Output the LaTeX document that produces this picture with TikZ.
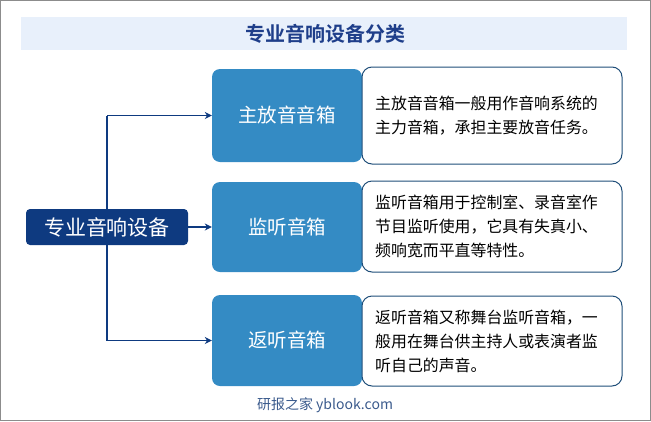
\documentclass[tikz,border=0pt]{standalone}
\usepackage{fontspec}
\setmainfont{Noto Sans CJK SC}
\newfontfamily\titlefont{Noto Sans CJK SC Bold}
\usepackage{tikz}
\usetikzlibrary{arrows.meta,shapes,positioning,backgrounds}
\usepackage{xcolor}
\definecolor{ybnavy}{RGB}{14,58,128}
\definecolor{ybblue}{RGB}{52,139,196}
\definecolor{ybband}{RGB}{232,240,251}
\definecolor{ybtitle}{RGB}{30,62,138}
\definecolor{ybedge}{RGB}{31,78,121}
\definecolor{ybfoot}{RGB}{58,90,140}
\tikzstyle{root} = [rectangle, rounded corners=4pt, minimum width=162pt, minimum height=36pt, text centered, fill=ybnavy, text=white, font=\fontsize{21}{24}\selectfont, inner sep=0pt]
\tikzstyle{kind} = [rectangle, rounded corners=8pt, minimum width=150pt, text centered, fill=ybblue, text=white, font=\fontsize{19.5}{22}\selectfont, inner sep=0pt]
\tikzstyle{desc} = [rectangle, rounded corners=10pt, minimum width=260pt, draw=ybedge, fill=white, line width=1pt, inner sep=0pt]
\tikzstyle{desctext} = [anchor=west, align=left, font=\fontsize{15.9}{24}\selectfont, inner sep=0pt]
\tikzstyle{arrow} = [line width=1.8pt,-{Stealth[length=7pt,width=7pt]},color=ybnavy]

\begin{document}
\begin{tikzpicture}[x=1pt,y=-1pt]
\useasboundingbox (0,0) rectangle (651,421);
\draw[gray!90, line width=1pt] (0.5,0.5) rectangle (650.5,420.5);
\fill[ybband] (21,17) rectangle (627,50);
\node[font=\titlefont\fontsize{20}{22}\selectfont, text=ybtitle] (title) at (325,33.5) {专业音响设备分类};

\node[kind, minimum height=93pt] (zf) at (287,115.5) {主放音音箱};
\node[kind, minimum height=90pt] (jt) at (287,227) {监听音箱};
\node[kind, minimum height=91pt] (ft) at (287,340.5) {返听音箱};

\node[desc, minimum height=97pt] (zfd) at (492,115.5) {};
\node[desc, minimum height=91pt] (jtd) at (492,226.5) {};
\node[desc, minimum height=90pt] (ftd) at (492,341) {};
\node[desctext] (zft) at (375,115.5) {主放音音箱一般用作音响系统的\\主力音箱，承担主要放音任务。};
\node[desctext] (jtt) at (375,226.5) {监听音箱用于控制室、录音室作\\节目监听使用，它具有失真小、\\频响宽而平直等特性。};
\node[desctext] (ftt) at (375,341) {返听音箱又称舞台监听音箱，一\\般用在舞台供主持人或表演者监\\听自己的声音。};

\node[root] (sys) at (107,227) {专业音响设备};

\begin{scope}[on background layer]
\draw[line width=1.8pt, color=ybnavy] (sys.center |- zf.west) -- (sys.center |- ft.west);
\end{scope}
\draw[arrow] (sys.center |- zf.west) -- (zf.west);
\draw[arrow] (sys.east) -- (jt.west);
\draw[arrow] (sys.center |- ft.west) -- (ft.west);

\node[font=\fontsize{14}{16}\selectfont, text=ybfoot] (foot) at (325,405) {研报之家 yblook.com};
\end{tikzpicture}
\end{document}
